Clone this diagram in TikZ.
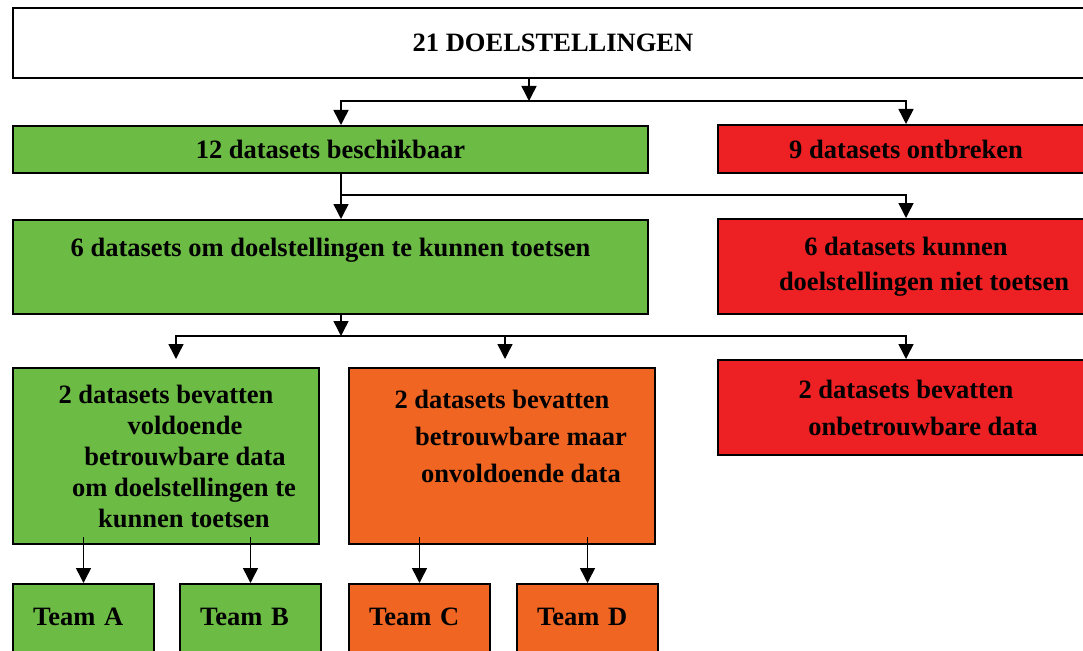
\documentclass[tikz,border=0pt]{standalone}
\usepackage{fontspec}
\setmainfont{Liberation Serif}
\usetikzlibrary{arrows.meta}

\definecolor{okgreen}{RGB}{108,187,69}
\definecolor{nored}{RGB}{237,32,36}
\definecolor{halforange}{RGB}{241,101,34}

\tikzset{
  box/.style={draw=black, line width=2pt, anchor=north west, inner sep=0pt,
    align=center, font=\fontsize{26.5}{31}\selectfont\bfseries},
  greenbox/.style={box, fill=okgreen},
  redbox/.style={box, fill=nored},
  orangebox/.style={box, fill=halforange},
  teambox/.style={box, text width=101pt, inner xsep=20pt, inner ysep=0pt,
    align=left, text height=41pt, text depth=76pt},
  link/.style={line width=1.5pt},
  arrow/.style={link, -{Triangle[width=15pt,length=15pt]}},
}

\begin{document}
\begin{tikzpicture}[x=1pt, y=-1pt]
        \useasboundingbox (0,0) rectangle (1083,650);

        \node[box, fill=white, minimum width=1080pt, minimum height=70pt] (doel) at (12,7) {21 DOELSTELLINGEN};

        \node[greenbox, minimum width=635pt, minimum height=47pt] (set12) at (12,125) {12 datasets beschikbaar};
        \node[redbox, minimum width=376pt, minimum height=48pt] (miss9) at (717,124) {9 datasets ontbreken};

        \node[greenbox, minimum width=635pt, minimum height=94pt] (set6) at (12,219) {6 datasets om doelstellingen te kunnen toetsen\\ \strut};
        \node[redbox, minimum width=376pt, minimum height=95pt] (notest6) at (717,218) {6 datasets kunnen\\[4pt] \hspace*{36pt}doelstellingen niet toetsen};

        \node[greenbox, minimum width=306pt, minimum height=176pt] (good2) at (12,367) {2 datasets bevatten\\ \hspace*{38pt}voldoende\\ \hspace*{38pt}betrouwbare data\\ \hspace*{36pt}om doelstellingen te\\ \hspace*{36pt}kunnen toetsen};
        \node[orangebox, minimum width=306pt, minimum height=176pt] (part2) at (348,367) {2 datasets bevatten\\[6pt] \hspace*{38pt}betrouwbare maar\\[6pt] \hspace*{38pt}onvoldoende data\\ \strut};
        \node[redbox, minimum width=376pt, minimum height=95pt] (bad2) at (717,359) {2 datasets bevatten\\[6pt] \hspace*{34pt}onbetrouwbare data};

        \node[teambox, fill=okgreen] (teamA) at (12,583) {Team A};
        \node[teambox, fill=okgreen] (teamB) at (179,583) {Team B};
        \node[teambox, fill=halforange] (teamC) at (348,583) {Team C};
        \node[teambox, fill=halforange] (teamD) at (516,583) {Team D};

        % split points
        \coordinate (j1) at (529,101);
        \coordinate (j2) at (341,195);
        \coordinate (j3) at (341,336);
        \coordinate (k1) at (176,336);
        \coordinate (k2) at (505,336);

        \draw[arrow] (doel.south -| j1) -- (j1);
        \draw[arrow] (j1) -| (set12.north -| j2);
        \draw[arrow] (j1) -| (miss9.north);

        \draw[link] (set12.south -| j2) -- (j2);
        \draw[arrow] (j2) -- (set6.north -| j2);
        \draw[arrow] (j2) -| (notest6.north);

        \draw[arrow] (set6.south -| j3) -- (j3);
        \draw[arrow, shorten >=8pt] (j3) -| (good2.north -| k1);
        \draw[arrow, shorten >=8pt] (j3) -| (part2.north -| k2);
        \draw[arrow] (j3) -| (bad2.north);

        \foreach \t/\b in {teamA/good2, teamB/good2, teamC/part2, teamD/part2}
          \draw[arrow, shorten <=-8pt] (\b.south -| \t.north) -- (\t.north);
    \end{tikzpicture}
\end{document}
